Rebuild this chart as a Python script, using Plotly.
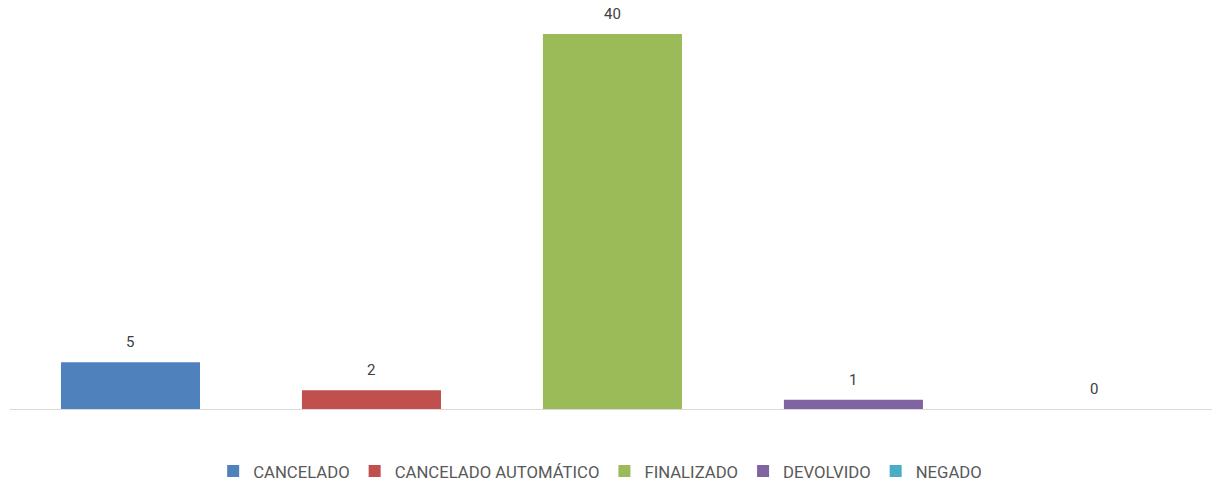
import plotly.graph_objects as go

categories = ["CANCELADO", "CANCELADO AUTOMÁTICO", "FINALIZADO", "DEVOLVIDO", "NEGADO"]
values = [5, 2, 40, 1, 0]
colors = ["#4F81BD", "#C0504D", "#9BBB59", "#8064A2", "#4BACC6"]

FONT = "Roboto, Liberation Sans, sans-serif"

fig = go.Figure()
for cat, val, col in zip(categories, values, colors):
    fig.add_trace(go.Bar(
        x=[cat], y=[val], name=cat, marker_color=col,
        marker_line_width=0, width=0.577,
    ))
    fig.add_annotation(
        x=cat, y=val, text=str(val), showarrow=False,
        yanchor="middle", yshift=20,
        font=dict(family=FONT, size=15, color="#404040"),
    )

fig.update_layout(
    width=1212, height=482,
    barmode="overlay",
    plot_bgcolor="white", paper_bgcolor="white",
    margin=dict(l=10, r=0, t=0, b=73, autoexpand=False),
    showlegend=True,
    legend=dict(
        orientation="h", x=0.491, xanchor="center", y=-0.152, yanchor="middle",
        font=dict(family=FONT, size=16.7, color="#595959"),
        itemwidth=30, traceorder="normal",
    ),
    xaxis=dict(
        range=[-0.5, 4.488], showticklabels=False, showgrid=False,
        showline=True, linecolor="#D9D9D9", linewidth=1, ticks="",
        zeroline=False,
    ),
    yaxis=dict(
        range=[0, 43.63], visible=False, showgrid=False, zeroline=False,
    ),
)

fig.write_html(
    "out.html",
    config={"displayModeBar": False},
    post_script="document.body.style.margin='0';document.body.style.overflow='hidden';",
)
